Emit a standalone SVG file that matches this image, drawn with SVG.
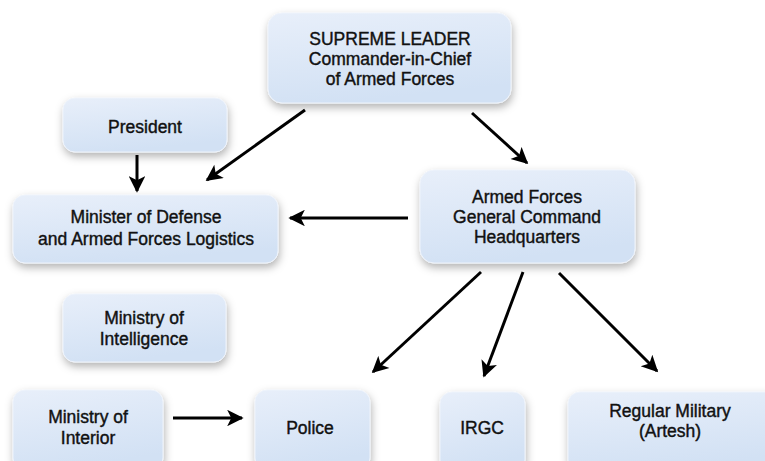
<svg xmlns="http://www.w3.org/2000/svg" width="765" height="461" viewBox="0 0 765 461">
<defs>
<linearGradient id="bg" x1="0" y1="0" x2="0.3" y2="1">
<stop offset="0" stop-color="#e8effa"/>
<stop offset="0.5" stop-color="#dde8f7"/>
<stop offset="1" stop-color="#d2e1f4"/>
</linearGradient>
<filter id="sh" x="-20%" y="-20%" width="140%" height="160%">
<feDropShadow dx="1" dy="4" stdDeviation="4" flood-color="#000" flood-opacity="0.3"/>
</filter>
<marker id="ah" viewBox="0 0 10 10" refX="9" refY="5" markerWidth="6" markerHeight="5.5" orient="auto" markerUnits="strokeWidth">
<path d="M0,0 L10,5 L0,10 L2.5,5 Z" fill="#000"/>
</marker>
<style>
.box{fill:url(#bg);stroke:#eef3fb;stroke-width:1;filter:url(#sh)}
.t{font-family:"Liberation Sans",Arial,sans-serif;font-size:17.5px;fill:#111;stroke:#111;stroke-width:0.4;text-anchor:middle}
.c{stroke:#000;stroke-width:3;fill:none;marker-end:url(#ah)}
</style>
</defs>
<rect width="765" height="461" fill="#fff"/>
<g id="connectors">
<line class="c" x1="305" y1="110" x2="207" y2="180"/>
<line class="c" x1="472" y1="113" x2="527" y2="163"/>
<line class="c" x1="137" y1="155" x2="137" y2="191"/>
<line class="c" x1="408" y1="218" x2="290" y2="218"/>
<line class="c" x1="481" y1="272" x2="373" y2="372"/>
<line class="c" x1="523" y1="272" x2="484" y2="376"/>
<line class="c" x1="559" y1="273" x2="657" y2="371"/>
<line class="c" x1="173" y1="418" x2="242" y2="418"/>
</g>
<g id="supreme-leader">
<rect class="box" x="268" y="13" width="243" height="90" rx="14"/>
<text class="t" x="390" y="45">SUPREME LEADER</text>
<text class="t" x="390" y="65">Commander-in-Chief</text>
<text class="t" x="390" y="85">of Armed Forces</text>
</g>
<g id="president">
<rect class="box" x="63" y="98" width="164" height="54" rx="12"/>
<text class="t" x="145" y="133">President</text>
</g>
<g id="minister-defense">
<rect class="box" x="13" y="195" width="265" height="68" rx="12"/>
<text class="t" x="146" y="223">Minister of Defense</text>
<text class="t" x="146" y="245">and Armed Forces Logistics</text>
</g>
<g id="afgch">
<rect class="box" x="420" y="170" width="215" height="93" rx="14"/>
<text class="t" x="527" y="203">Armed Forces</text>
<text class="t" x="527" y="223">General Command</text>
<text class="t" x="527" y="243">Headquarters</text>
</g>
<g id="ministry-intelligence">
<rect class="box" x="63" y="294" width="163" height="68" rx="12"/>
<text class="t" x="144" y="324">Ministry of</text>
<text class="t" x="144" y="345">Intelligence</text>
</g>
<g id="ministry-interior">
<rect class="box" x="13" y="390" width="150" height="80" rx="12"/>
<text class="t" x="88" y="423">Ministry of</text>
<text class="t" x="88" y="444">Interior</text>
</g>
<g id="police">
<rect class="box" x="255" y="390" width="115" height="80" rx="12"/>
<text class="t" x="310" y="434">Police</text>
</g>
<g id="irgc">
<rect class="box" x="440" y="392" width="85" height="80" rx="12"/>
<text class="t" x="482" y="434">IRGC</text>
</g>
<g id="regular-military">
<rect class="box" x="568" y="392" width="210" height="80" rx="12"/>
<text class="t" x="670" y="417">Regular Military</text>
<text class="t" x="670" y="437">(Artesh)</text>
</g>
</svg>
